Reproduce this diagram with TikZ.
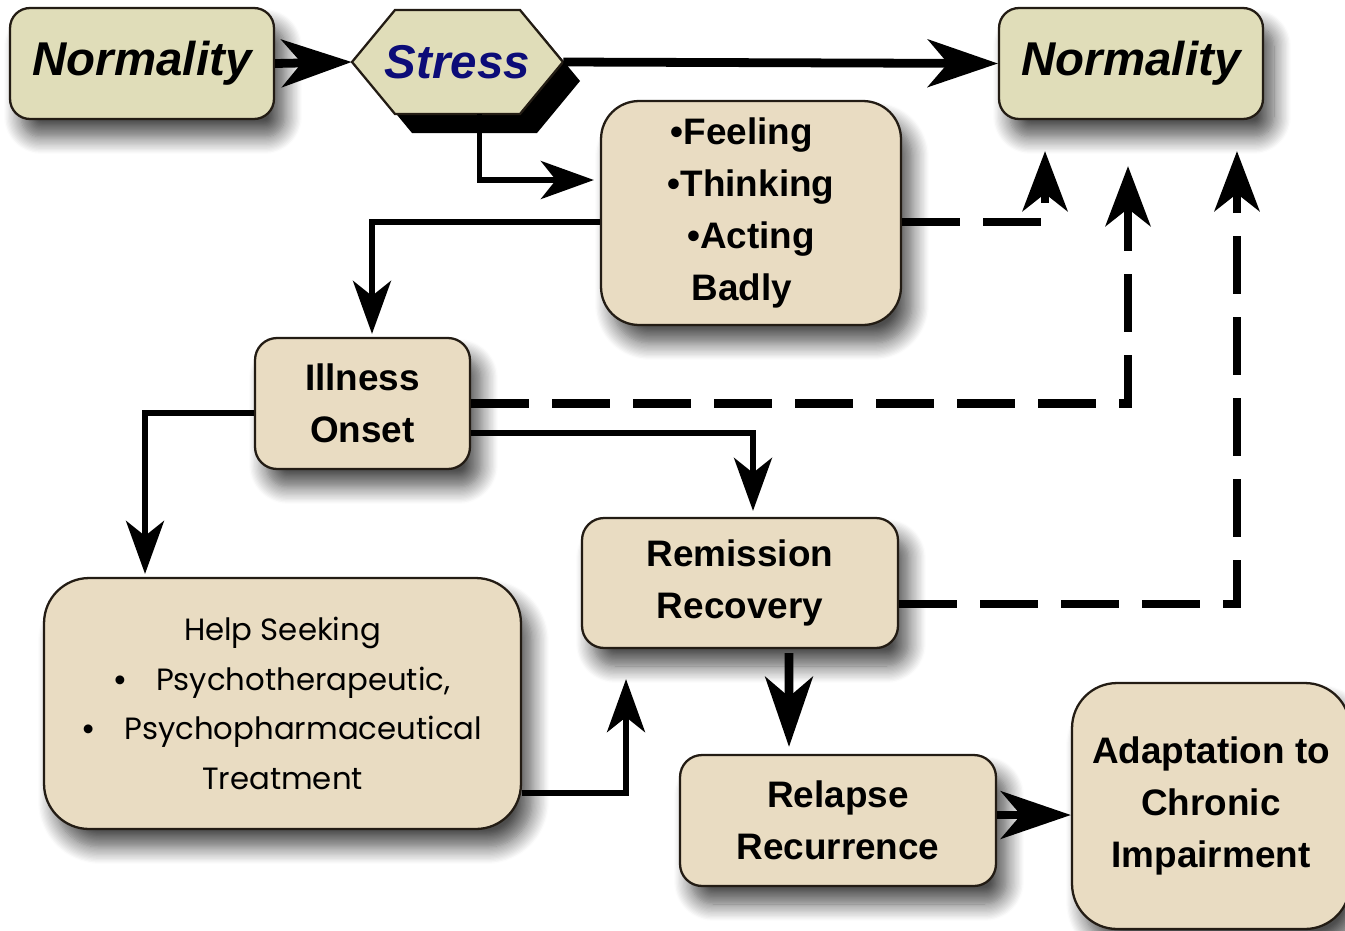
\documentclass[tikz,border=0pt]{standalone}
\usepackage{fontspec}
\setmainfont{Liberation Sans}
\newfontfamily\helpfont{Poppins}
\usetikzlibrary{arrows.meta,shadows,shadows.blur}

\definecolor{boxfill}{RGB}{233,220,194}
\definecolor{normfill}{RGB}{224,221,185}
\definecolor{boxline}{RGB}{35,28,20}
\definecolor{stressblue}{RGB}{12,12,120}

\newcommand{\bigdot}{{\rmfamily\bfseries •}}

\tikzset{
  box/.style={draw=boxline, line width=1.3pt, fill=boxfill, align=center, inner sep=0pt,
    font=\bfseries\fontsize{21}{29.5}\selectfont,
    blur shadow={shadow xshift=0.22cm, shadow yshift=-0.36cm, shadow blur radius=0.34cm,
      shadow blur steps=14, shadow opacity=70}},
  normbox/.style={box, fill=normfill, rounded corners=0.4cm, minimum width=5.28cm, minimum height=2.22cm,
    font=\bfseries\itshape\fontsize{27}{30}\selectfont},
  link/.style={line width=3pt, -{Stealth[length=1.06cm,width=0.76cm,inset=0.3cm]}},
  biglink/.style={line width=5pt, -{Stealth[length=1.4cm,width=0.95cm,inset=0.4cm]}},
  dashlink/.style={line width=4.6pt, dash pattern=on 1.16cm off 0.46cm,
    -{Stealth[length=1.2cm,width=0.9cm,inset=0.35cm]}},
}

\begin{document}
\begin{tikzpicture}[x=0.02cm,y=-0.02cm]
\useasboundingbox (0,0) rectangle (1345,930);

\node[normbox] (norm1) at (142,63.5) {Normality};
\node[normbox] (norm2) at (1131,63.5) {Normality};

% stress hexagon with its hard shadow
\fill[black] (369,81) -- (412,29) -- (537,29) -- (580,81) -- (537,133) -- (412,133) -- cycle;
\filldraw[draw=boxline, line width=1.3pt, fill=normfill] (352,62) -- (395,10) -- (520,10) -- (563,62) -- (520,114) -- (395,114) -- cycle;
\node[minimum width=4.22cm, minimum height=2.08cm, inner sep=0pt, text=stressblue,
  font=\bfseries\itshape\fontsize{27}{30}\selectfont] (stress) at (457.5,62) {Stress};

\node[box, rounded corners=0.76cm, minimum width=6cm, minimum height=4.48cm] (feel) at (751,213)
  {•Feeling\hspace*{0.36cm}\\•Thinking\hspace*{0.36cm}\\•Acting\hspace*{0.36cm}\\Badly\hspace*{0.36cm}};
\node[box, rounded corners=0.44cm, minimum width=4.3cm, minimum height=2.62cm] (ill) at (362.5,403.5)
  {Illness\\Onset};
\node[box, rounded corners=0.9cm, minimum width=9.54cm, minimum height=5.02cm,
  font=\helpfont\fontsize{17.5}{28.3}\selectfont] (help) at (282.5,703.5)
  {Help Seeking\\\bigdot\quad Psychotherapeutic,\\\bigdot\quad Psychopharmaceutical\\Treatment};
\node[box, rounded corners=0.44cm, minimum width=6.32cm, minimum height=2.6cm] (rem) at (740,583)
  {Remission\\Recovery};
\node[box, rounded corners=0.44cm, minimum width=6.32cm, minimum height=2.62cm] (rel) at (838,820.5)
  {Relapse\\Recurrence};
\node[box, rounded corners=0.9cm, minimum width=5.56cm, minimum height=4.92cm] (adapt) at (1211,806)
  {Adaptation to\\Chronic\\Impairment};

\draw[biglink] (norm1.east) -- (stress.west);
\draw[biglink] (stress.east) -- (norm2.west);
\draw[link, shorten >=0.12cm] ([xshift=0.44cm]stress.south) |- ([yshift=0.66cm]feel.west);
\draw[link, shorten >=0.06cm] ([yshift=-0.18cm]feel.west) -| ([xshift=0.19cm]ill.north);
\draw[dashlink, shorten >=0.62cm] ([yshift=-0.18cm]feel.east) -| ([xshift=-1.72cm]norm2.south);
\draw[dashlink, shorten >=0.92cm] (ill.east) -| ([xshift=-0.06cm]norm2.south);
\draw[link, shorten >=0.12cm] ([yshift=-0.59cm]ill.east) -| ([xshift=0.26cm]rem.north);
\draw[link, shorten >=0.06cm] ([yshift=-0.19cm]ill.west) -| ([xshift=-2.75cm]help.north);
\draw[link, shorten >=0.6cm] ([yshift=-1.79cm]help.east) -| ([xshift=-2.28cm]rem.south);
\draw[dashlink, shorten >=0.62cm] ([yshift=-0.42cm]rem.east) -| ([xshift=2.12cm]norm2.south);
\draw[biglink, shorten <=0.08cm, shorten >=0.14cm] ([xshift=0.98cm]rem.south) -- ([xshift=-0.98cm]rel.north);
\draw[biglink] ([yshift=0.11cm]rel.east) -- ([yshift=0.11cm]rel.east -| adapt.west);
\end{tikzpicture}
\end{document}
